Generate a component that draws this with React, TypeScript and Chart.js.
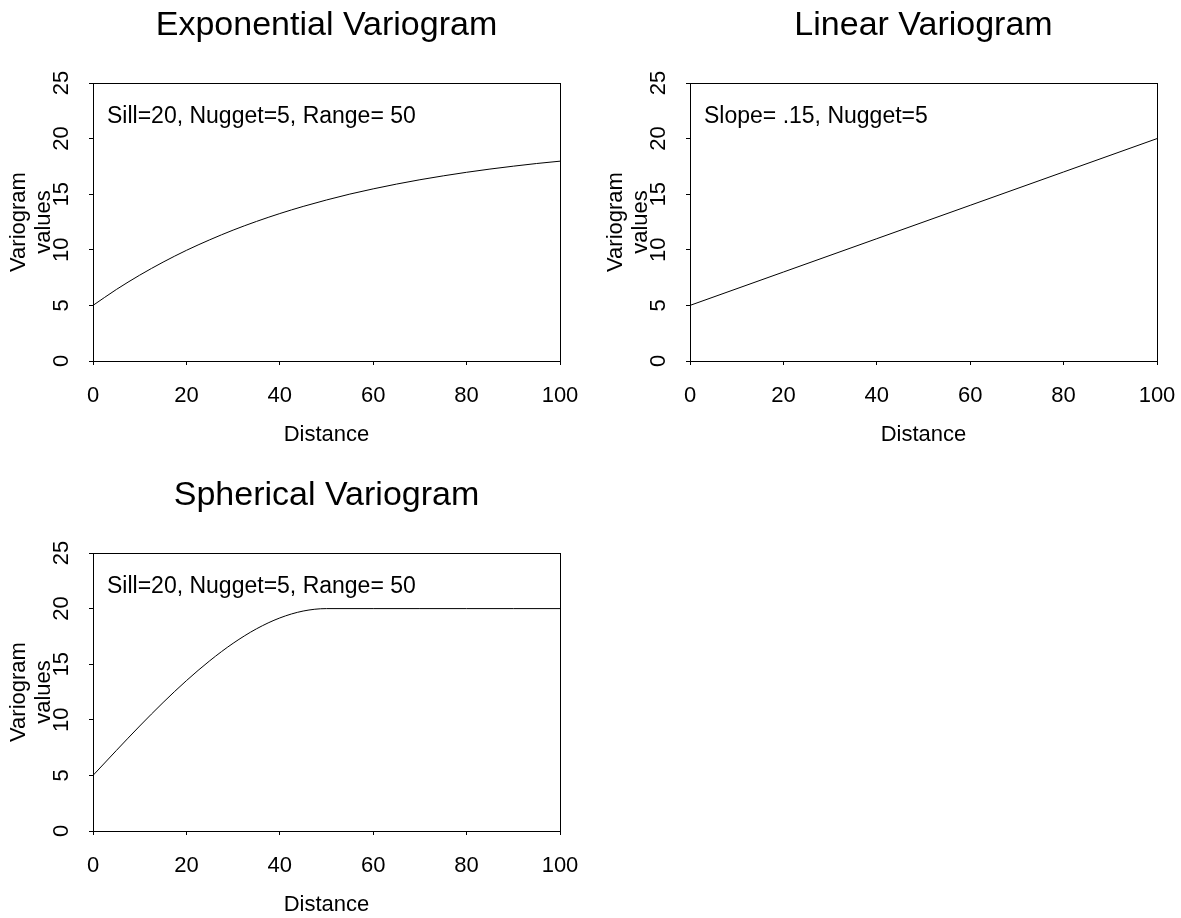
import React, { useEffect, useRef } from "react";
import { Chart, registerables } from "chart.js";

Chart.register(...registerables);

// ---- data ----
const expDistances = [0, 5, 10, 15, 20, 25, 30, 35, 40, 45, 50, 55, 60, 65, 70, 75, 80, 85, 90, 95, 100];
const expValues = [5.0, 6.43, 7.72, 8.89, 9.95, 10.9, 11.77, 12.55, 13.26, 13.9, 14.48, 15.01, 15.48, 15.91, 16.3, 16.65, 16.97, 17.26, 17.52, 17.76, 17.97];

const linDistances = [0, 20, 40, 60, 80, 100];
const linValues = [5, 8, 11, 14, 17, 20];

const sphDistances = [0, 5, 10, 15, 20, 25, 30, 35, 40, 45, 50, 60, 70, 80, 90, 100];
const sphValues = [5.0, 7.24, 9.44, 11.55, 13.52, 15.31, 16.88, 18.18, 19.16, 19.78, 20.0, 20.0, 20.0, 20.0, 20.0, 20.0];

const xTickValues = [0, 20, 40, 60, 80, 100];
const yTickValues = [0, 5, 10, 15, 20, 25];

const titles = ["Exponential Variogram", "Linear Variogram", "Spherical Variogram"];
const notes = ["Sill=20, Nugget=5, Range= 50", "Slope= .15, Nugget=5", "Sill=20, Nugget=5, Range= 50"];
const xTitle = "Distance";
const yTitle = ["Variogram", "values"];

const FONT = '"Liberation Sans", Arial, Helvetica, sans-serif';

const framePlugin = {
  id: "frame",
  afterDatasetsDraw(chart: any, _args: any, opts: any) {
    const { ctx, chartArea } = chart;
    const { left, top, right, bottom } = chartArea;
    ctx.save();
    ctx.strokeStyle = "#000";
    ctx.lineWidth = 1;
    ctx.strokeRect(Math.round(left) + 0.5, Math.round(top) + 0.5, Math.round(right - left), Math.round(bottom - top));
    if (opts && opts.text) {
      ctx.font = `23px ${FONT}`;
      ctx.fillStyle = "#000";
      ctx.textBaseline = "alphabetic";
      ctx.textAlign = "left";
      ctx.fillText(opts.text, left + 14, top + 40);
    }
    ctx.restore();
  },
};

function Panel(props: { title: string; note: string; xs: number[]; ys: number[]; left: number; top: number; width: number; height: number; padRight: number }) {
  const ref = useRef<HTMLCanvasElement | null>(null);
  useEffect(() => {
    if (!ref.current) return;
    const pts = props.xs.map((x, i) => ({ x, y: props.ys[i] }));
    const chart = new Chart(ref.current, {
      type: "line",
      data: {
        datasets: [
          {
            data: pts,
            borderColor: "#000",
            borderWidth: 1,
            pointRadius: 0,
            cubicInterpolationMode: "monotone",
            fill: false,
          },
        ],
      },
      options: {
        animation: false,
        responsive: false,
        devicePixelRatio: 1,
        layout: { autoPadding: false, padding: { left: 0, right: props.padRight, top: 0, bottom: 0 } },
        plugins: {
          legend: { display: false },
          tooltip: { enabled: false },
          title: {
            display: true,
            text: props.title,
            color: "#000",
            fullSize: false,
            font: { family: FONT, size: 34, weight: "normal", lineHeight: 1.2 },
            padding: { top: 4.8, bottom: 37.4 },
          },
          frame: { text: props.note },
        } as any,
        scales: {
          x: {
            type: "linear",
            min: 0,
            max: 100,
            afterBuildTicks: (s: any) => {
              s.ticks = xTickValues.map((v) => ({ value: v }));
            },
            afterFit: (s: any) => {
              s.height = 95;
              s.paddingLeft = 0;
              s.paddingRight = 0;
            },
            border: { display: false },
            grid: { display: true, drawOnChartArea: false, drawTicks: true, tickLength: 4, color: "#000", lineWidth: 1 },
            ticks: { color: "#000", font: { family: FONT, size: 22 }, padding: 18, maxRotation: 0, minRotation: 0 },
            title: {
              display: true,
              text: xTitle,
              color: "#000",
              font: { family: FONT, size: 22, lineHeight: 1.2 },
              padding: { top: 0, bottom: 8 },
            },
          },
          y: {
            type: "linear",
            min: 0,
            max: 25,
            afterBuildTicks: (s: any) => {
              s.ticks = yTickValues.map((v) => ({ value: v }));
            },
            afterFit: (s: any) => {
              s.width = 93;
              s.paddingTop = 0;
              s.paddingBottom = 0;
            },
            border: { display: false },
            grid: { display: true, drawOnChartArea: false, drawTicks: true, tickLength: 4, color: "#000", lineWidth: 1 },
            ticks: { color: "#000", font: { family: FONT, size: 22 }, padding: 15, minRotation: 90, maxRotation: 90, crossAlign: "center" },
            title: {
              display: true,
              text: yTitle,
              color: "#000",
              font: { family: FONT, size: 22, lineHeight: 1.1 },
              padding: { top: 7.2, bottom: 0 },
            },
          },
        },
      } as any,
      plugins: [framePlugin],
    });
    return () => chart.destroy();
  }, []);
  return (
    <canvas
      ref={ref}
      width={props.width}
      height={props.height}
      style={{ position: "absolute", left: props.left, top: props.top, width: props.width, height: props.height }}
    />
  );
}

export default function App() {
  return (
    <div style={{ position: "absolute", left: 0, top: 0, width: 1181, height: 918, overflow: "hidden", background: "#fff" }}>
      <Panel title={titles[0]} note={notes[0]} xs={expDistances} ys={expValues} left={0} top={0} width={590} height={456} padRight={30} />
      <Panel title={titles[1]} note={notes[1]} xs={linDistances} ys={linValues} left={597} top={0} width={584} height={456} padRight={24} />
      <Panel title={titles[2]} note={notes[2]} xs={sphDistances} ys={sphValues} left={0} top={470} width={590} height={456} padRight={30} />
    </div>
  );
}
